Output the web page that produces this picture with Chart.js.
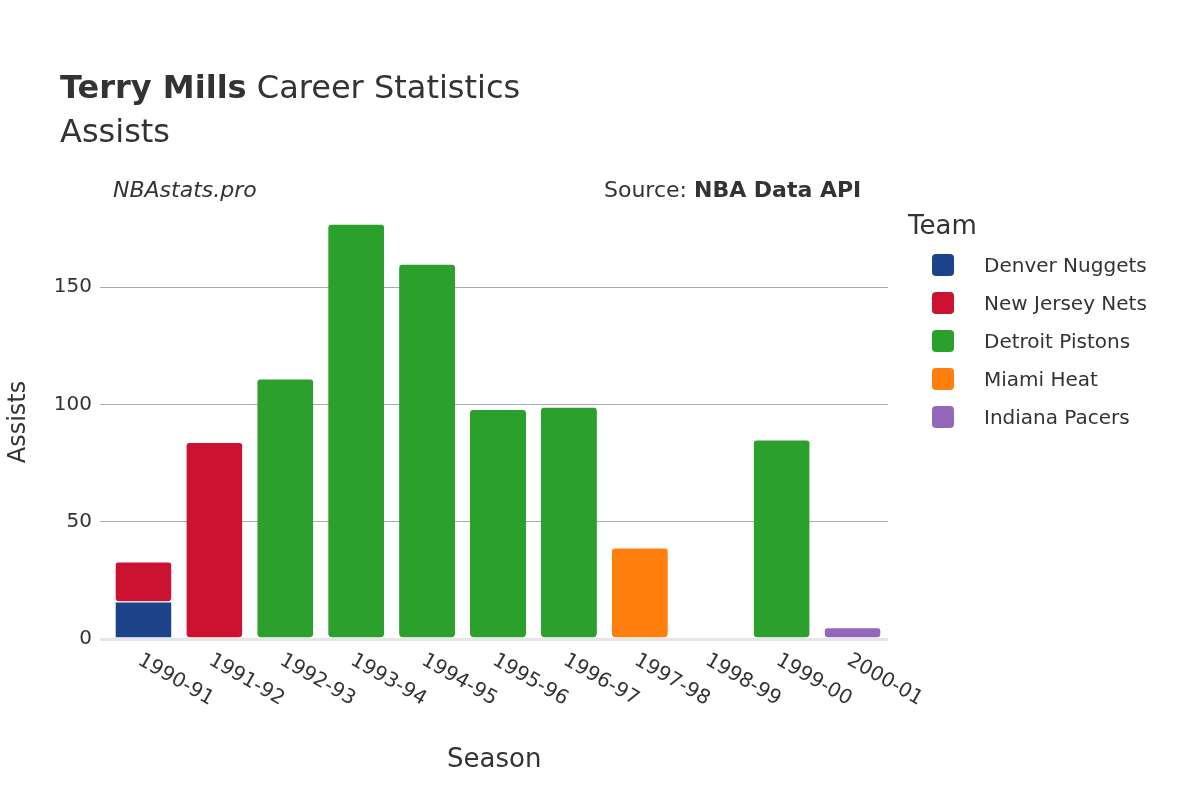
<!DOCTYPE html>
<html>
<head>
<meta charset="utf-8">
<script src="https://cdn.jsdelivr.net/npm/chart.js@4"></script>
<style>
body{margin:0;background:#fff;font-family:"DejaVu Sans",sans-serif;color:#333}
#wrap{position:relative;width:1200px;height:800px}
canvas{position:absolute;left:0;top:0}
.t{position:absolute;white-space:nowrap}
.leg{position:absolute;left:908px;top:208px;font-size:20px}
.leg div{height:38px;display:flex;align-items:center}
.leg span{display:inline-block;width:22px;height:22px;border-radius:4px;margin:0 30px 0 24px}
</style>
</head>
<body>
<div id="wrap">
<canvas id="myChart" width="1200" height="800"></canvas>
<div class="t" style="left:60px;top:68px;font-size:32px"><b>Terry Mills</b> Career Statistics</div>
<div class="t" style="left:60px;top:112px;font-size:32px">Assists</div>
<div class="t" style="left:113px;top:177px;font-size:22px;font-style:italic">NBAstats.pro</div>
<div class="t" style="left:604px;top:177px;font-size:22px">Source: <b>NBA Data API</b></div>
<div class="t" style="left:447px;top:743px;font-size:26px">Season</div>
<div class="leg" id="legend"><div style="font-size:26px;height:34px;margin-bottom:4px">Team</div></div>
</div>
<script>
var seasons = ['1990-91','1991-92','1992-93','1993-94','1994-95','1995-96','1996-97','1997-98','1998-99','1999-00','2000-01']
var teams = ['Denver Nuggets','New Jersey Nets','Detroit Pistons','Miami Heat','Indiana Pacers']
var colors = ['#1c438a','#cb1230','#2ca02c','#ff7f0e','#9467bd']
var denver = [16,null,null,null,null,null,null,null,null,null,null]
var nets = [17,84,null,null,null,null,null,null,null,null,null]
var pistons = [null,null,111,177,160,98,99,null,null,85,null]
var heat = [null,null,null,null,null,null,null,39,0,null,null]
var pacers = [null,null,null,null,null,null,null,null,null,null,5]
var values = [denver,nets,pistons,heat,pacers]

var leg = document.getElementById('legend')
teams.forEach(function(t,i){
    var d = document.createElement('div')
    d.innerHTML = '<span style="background:'+colors[i]+'"></span>'+t
    leg.appendChild(d)
})

var fam = '"DejaVu Sans", sans-serif'
// draws season labels slanted down to the right, starting at each tick
var slantLabels = {
    id:'slantLabels',
    afterDraw:function(chart){
        var c = chart.ctx, xs = chart.scales.x, top = chart.chartArea.bottom
        c.save()
        c.font = '20px ' + fam
        c.fillStyle = '#333'
        c.textAlign = 'left'
        c.textBaseline = 'middle'
        seasons.forEach(function(s,i){
            var px = xs.getPixelForValue(i)
            c.save()
            c.translate(px - 4, top + 20)
            c.rotate(Math.PI/6)
            c.fillText(s, 0, 0)
            c.restore()
        })
        c.restore()
    }
}

var ctx = document.getElementById('myChart').getContext('2d')
new Chart(ctx, {
    type:'bar',
    plugins:[slantLabels],
    data:{
        labels:seasons,
        datasets:values.map(function(v,i){
            return {label:teams[i], data:v, backgroundColor:colors[i], borderRadius:4, borderSkipped:false,
                barPercentage:0.79, categoryPercentage:1, borderWidth:{top:1}, borderColor:'#fff'}
        })
    },
    options:{
        responsive:false,
        animation:false,
        layout:{padding:{top:205,right:312,bottom:0,left:0}},
        plugins:{legend:{display:false},tooltip:{enabled:false}},
        scales:{
            x:{
                stacked:true,
                grid:{display:false},
                border:{display:false},
                ticks:{display:false},
                afterFit:function(a){a.height=161}
            },
            y:{
                stacked:true,
                min:0,max:185,
                grid:{
                    color:function(c){ if(c.tick.value===0) return '#e6e6e6'; return c.tick.value%50===0?'#aaa':'rgba(0,0,0,0)' },
                    lineWidth:function(c){return c.tick.value===0?3:1}
                },
                border:{display:false},
                ticks:{stepSize:50,color:'#333',font:{family:fam,size:20},padding:8,
                    callback:function(v){return v%50===0?v:''}},
                title:{display:true,text:'Assists',color:'#333',font:{family:fam,size:24},padding:{bottom:14}},
                afterFit:function(a){a.width=108}
            }
        }
    }
})
</script>
</body>
</html>
